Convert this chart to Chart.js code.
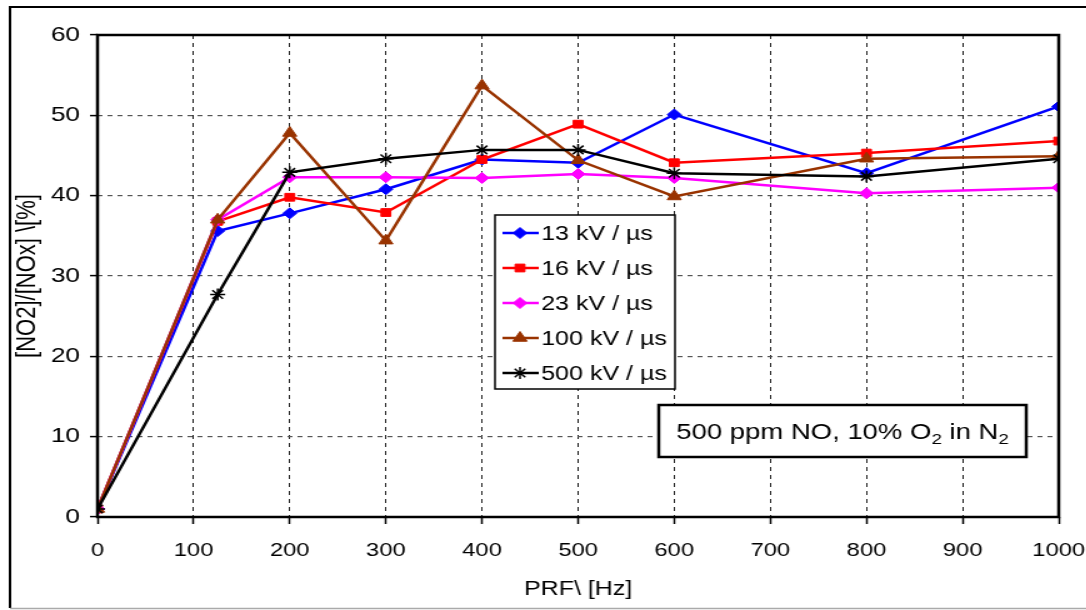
<!DOCTYPE html>
<html>
<head>
<meta charset="utf-8">
<script src="https://cdn.jsdelivr.net/npm/chart.js@4/dist/chart.umd.min.js"></script>
<style>
  html, body { margin: 0; padding: 0; background: #fff; overflow: hidden; }
  /* the figure is laid out narrow and widened to the page */
  #wrap { position: absolute; left: 0; top: 0; width: 869px; height: 610px;
          transform: scaleX(1.25); transform-origin: 0 0; }
</style>
</head>
<body>
<div id="wrap"><canvas id="chart" width="869" height="610"></canvas></div>
<script>
// pulse repetition frequency [Hz]
const prf = [0, 125, 200, 300, 400, 500, 600, 800, 1000];

// NO2/NOx ratio [%] per voltage rise rate
const rate13 = [1, 35.6, 37.8, 40.8, 44.5, 44.1, 50.1, 42.8, 51.1];
const rate16 = [1, 36.8, 39.8, 37.9, 44.5, 48.9, 44.1, 45.3, 46.8];
const rate23 = [1, 37.0, 42.3, 42.3, 42.2, 42.7, 42.2, 40.3, 41.0];
const rate100 = [1, 37.0, 47.8, 34.4, 53.7, 44.4, 39.9, 44.6, 44.9];
const rate500 = [1, 27.7, 42.9, 44.6, 45.7, 45.7, 42.8, 42.4, 44.6];

const seriesLabels = ["13 kV / µs", "16 kV / µs", "23 kV / µs", "100 kV / µs", "500 kV / µs"];
const xTicks = [0, 100, 200, 300, 400, 500, 600, 700, 800, 900, 1000];
const yTicks = [0, 10, 20, 30, 40, 50, 60];

const FONT = "'Liberation Sans', Arial, sans-serif";

const styles = [
  { color: "#0000ff", pointStyle: "rectRot", radius: 5.5 },
  { color: "#ff0000", pointStyle: "rect", radius: 5.5 },
  { color: "#ff00ff", pointStyle: "rectRot", radius: 5.5 },
  { color: "#993300", pointStyle: "triangle", radius: 6.5 },
  { color: "#000000", pointStyle: "star", radius: 6 },
];

const toPoints = (ys) => ys.map((y, i) => ({ x: prf[i], y }));

const datasets = [rate13, rate16, rate23, rate100, rate500].map((ys, i) => ({
  label: seriesLabels[i],
  data: toPoints(ys),
  borderColor: styles[i].color,
  backgroundColor: styles[i].color,
  borderWidth: 2.5,
  pointStyle: styles[i].pointStyle,
  pointRadius: styles[i].radius,
  pointBorderWidth: styles[i].pointStyle === "star" ? 1.5 : 1,
  pointBorderColor: styles[i].color,
  pointBackgroundColor: styles[i].color,
  tension: 0,
  order: 5 - i, // later series on top
}));

// marker helper for the legend samples
const drawMarker = (ctx, style, radius, x, y) => {
  if (Chart.helpers && Chart.helpers.drawPoint) {
    Chart.helpers.drawPoint(ctx, { pointStyle: style, radius, borderWidth: 1 }, x, y);
  }
};

// frame, plot border, in-plot legend and the gas composition note
const decorations = {
  id: "decorations",
  beforeDraw(chart) {
    const { ctx } = chart;
    ctx.save();
    ctx.fillStyle = "#fff";
    ctx.fillRect(0, 0, chart.width, chart.height);
    ctx.strokeStyle = "#000";
    ctx.lineWidth = 2;
    ctx.beginPath();
    ctx.moveTo(8, 608);
    ctx.lineTo(8, 7);
    ctx.lineTo(chart.width, 7);
    ctx.stroke();
    ctx.strokeStyle = "#aaa";
    ctx.lineWidth = 1.5;
    ctx.beginPath();
    ctx.moveTo(8, 608.5);
    ctx.lineTo(chart.width, 608.5);
    ctx.stroke();
    ctx.restore();
  },
  afterDatasetsDraw(chart) {
    const { ctx, chartArea: a } = chart;
    ctx.save();
    ctx.strokeStyle = "#000";
    ctx.lineWidth = 2.5;
    ctx.strokeRect(a.left, a.top, a.right - a.left, a.bottom - a.top);
    ctx.restore();
  },
  afterDraw(chart) {
    const { ctx } = chart;
    ctx.save();

    // legend box
    const lx = 396, ly = 215, lw = 144, lh = 174;
    ctx.fillStyle = "#fff";
    ctx.fillRect(lx, ly, lw, lh);
    ctx.strokeStyle = "#000";
    ctx.lineWidth = 1.5;
    ctx.strokeRect(lx, ly, lw, lh);
    ctx.font = "20px " + FONT;
    ctx.textBaseline = "middle";
    ctx.textAlign = "left";
    chart.data.datasets.forEach((ds, i) => {
      const y = ly + 18 + i * 35;
      ctx.strokeStyle = ds.borderColor;
      ctx.fillStyle = ds.borderColor;
      ctx.lineWidth = 2.5;
      ctx.beginPath();
      ctx.moveTo(lx + 6, y);
      ctx.lineTo(lx + 35, y);
      ctx.stroke();
      ctx.lineWidth = ds.pointBorderWidth;
      drawMarker(ctx, ds.pointStyle, ds.pointRadius, lx + 20, y);
      ctx.fillStyle = "#000";
      ctx.fillText(ds.label, lx + 37, y + 1);
    });

    // gas composition note with subscripts
    const bx = 527, by = 405, bw = 294, bh = 52;
    ctx.fillStyle = "#fff";
    ctx.fillRect(bx, by, bw, bh);
    ctx.strokeStyle = "#000";
    ctx.lineWidth = 2.5;
    ctx.strokeRect(bx, by, bw, bh);
    const parts = [
      ["500 ppm NO, 10% O", false], ["2", true], [" in N", false], ["2", true],
    ];
    const big = "22px " + FONT, small = "15px " + FONT;
    let total = 0;
    parts.forEach(([t, sub]) => { ctx.font = sub ? small : big; total += ctx.measureText(t).width; });
    let x = bx + (bw - total) / 2;
    const base = by + bh / 2 + 8;
    ctx.textBaseline = "alphabetic";
    ctx.fillStyle = "#000";
    parts.forEach(([t, sub]) => {
      ctx.font = sub ? small : big;
      ctx.fillText(t, x, sub ? base + 5 : base);
      x += ctx.measureText(t).width;
    });
    ctx.restore();
  },
};

new Chart(document.getElementById("chart"), {
  type: "line",
  data: { datasets },
  plugins: [decorations],
  options: {
    responsive: false,
    animation: false,
    devicePixelRatio: 1,
    layout: { padding: { top: 35, right: 22, bottom: 0, left: 0 } },
    plugins: { legend: { display: false }, tooltip: { enabled: false } },
    scales: {
      x: {
        type: "linear",
        min: 0,
        max: 1000,
        afterBuildTicks: (s) => { s.ticks = xTicks.map((v) => ({ value: v })); },
        afterFit: (s) => { s.height = 93; s.paddingRight = 0; s.paddingLeft = 0; },
        grid: { color: "#222", lineWidth: 1, tickLength: 7, tickColor: "#000", tickWidth: 1.5 },
        border: { display: false, dash: [4, 4] },
        ticks: { color: "#000", font: { family: FONT, size: 19 }, padding: 15, maxRotation: 0,
                 callback: (v) => String(v) },
        title: { display: true, text: "PRF\\ [Hz]", color: "#000", font: { family: FONT, size: 20 }, padding: { top: 2, bottom: 9 } },
      },
      y: {
        min: 0,
        max: 60,
        afterBuildTicks: (s) => { s.ticks = yTicks.map((v) => ({ value: v })); },
        afterFit: (s) => { s.width = 78; },
        grid: { color: "#555", lineWidth: 1.2, tickLength: 6, tickColor: "#000", tickWidth: 1.5 },
        border: { display: false, dash: [4, 4] },
        ticks: { color: "#000", font: { family: FONT, size: 21 }, padding: 8 },
        title: { display: true, text: "[NO2]/[NOx] \\[%]", color: "#000", font: { family: FONT, size: 22 }, padding: { top: 9, bottom: 0 } },
      },
    },
  },
});
</script>
</body>
</html>
